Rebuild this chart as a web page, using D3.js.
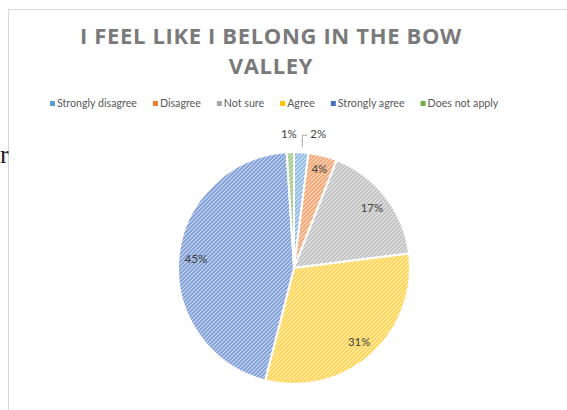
<!DOCTYPE html>
<html><head><meta charset="utf-8">
<script src="https://cdn.jsdelivr.net/npm/d3@7"></script>
<style>html,body{margin:0;padding:0;background:#fff;overflow:hidden}</style>
</head><body>
<svg id="c" width="567" height="410"></svg>
<script>
const categories = ["Strongly disagree","Disagree","Not sure","Agree","Strongly agree","Does not apply"];
const values = [2,4,17,31,45,1];
const labels = ["2%","4%","17%","31%","45%","1%"];
const colors = ["#5B9BD5","#ED7D31","#A5A5A5","#FFC000","#4472C4","#70AD47"];
const titleLines = ["I FEEL LIKE I BELONG IN THE BOW","VALLEY"];

const svg = d3.select("#c");

// chart border (continues off the page)
svg.append("rect").attr("x",8.5).attr("y",9.5).attr("width",700).attr("height",600)
  .attr("fill","#fff").attr("stroke","#d9d9d9").attr("stroke-width",1);

// stray serif letter at the left
svg.append("text").attr("x",0).attr("y",163).attr("text-anchor","start")
  .attr("font-family","'Liberation Serif', 'Times New Roman', serif").attr("font-size",26)
  .attr("fill","#222").text("r");

// patterns
const defs = svg.append("defs");
colors.forEach((c,i)=>{
  const light = d3.interpolateRgb(c,"#fff")(0.68);
  const dark = d3.interpolateRgb(c,"#fff")(0.28);
  const p = defs.append("pattern").attr("id","pat"+i).attr("patternUnits","userSpaceOnUse")
    .attr("width",4).attr("height",4);
  p.append("rect").attr("width",4).attr("height",4).attr("fill",light);
  p.append("path").attr("d","M-1,1 L1,-1 M0,4 L4,0 M3,5 L5,3").attr("stroke",dark).attr("stroke-width",1.5);
});

// title
const title = svg.append("g");
[[titleLines[0],44],[titleLines[1],74]].forEach(([t,y])=>{
  title.append("text").attr("x",271).attr("y",y).attr("text-anchor","middle")
    .attr("font-family","'Open Sans', sans-serif").attr("font-weight","bold").attr("font-size",22)
    .attr("fill","#7a7a7a").attr("letter-spacing","2.2px").text(t);
});
(function(){
  const el = title.select("text").node();
  const w = el.getComputedTextLength();
  const n = titleLines[0].length;
  const ls = 2.2 + (382 - w)/n;
  title.selectAll("text").attr("letter-spacing", ls+"px");
})();

// legend
const legend = svg.append("g");
const items = legend.selectAll("g").data(categories).join("g");
items.append("rect").attr("width",5).attr("height",5).attr("y",-3).attr("fill",(d,i)=>colors[i]);
const texts = items.append("text").attr("x",7).attr("y",0).attr("dy","0.32em")
  .attr("font-family","Lato, 'Open Sans', sans-serif")
  .attr("font-size",12).attr("fill","#595959").text(d=>d);
function widthsNow(){ const w=[]; texts.each(function(){ w.push(this.getComputedTextLength()+7); }); return w; }
const gap = 16;
let widths = widthsNow();
const fs = 12 * (449 - gap*5 - 42) / (d3.sum(widths) - 42);
texts.attr("font-size", fs);
widths = widthsNow();
let lx = 50;
items.each(function(d,i){
  d3.select(this).attr("transform",`translate(${lx},${104})`);
  lx += widths[i] + gap;
});

// pie
const cx = 294, cy = 268, r = 116;
const pie = d3.pie().sort(null).value(d=>d)(values);
const arc = d3.arc().innerRadius(0).outerRadius(r);
const g = svg.append("g").attr("transform",`translate(${cx},${cy})`);
g.selectAll("path").data(pie).join("path").attr("d",arc)
  .attr("fill",(d,i)=>`url(#pat${i})`).attr("stroke","#fff").attr("stroke-width",2);

const labelArc = d3.arc().innerRadius(r*0.85).outerRadius(r*0.85);
g.selectAll("text.lab").data(pie).join("text").attr("class","lab")
  .attr("font-family","Lato, 'Open Sans', sans-serif").attr("font-size",11.5).attr("fill","#404040")
  .attr("text-anchor","middle").attr("dy","0.35em")
  .each(function(d,i){
    const el = d3.select(this);
    const mid = (d.startAngle+d.endAngle)/2;
    let x, y;
    if (values[i] < 3) {
      const rr = r + 16;
      x = Math.sin(mid)*rr; y = -Math.cos(mid)*rr;
      if (i === 0) {
        x += 16; y -= 2;
        g.append("path").attr("fill","none").attr("stroke","#a6a6a6").attr("stroke-width",1)
          .attr("d",`M${x-11},${y+1} L${x-16},${y+1} L${x-16},${y+13}`);
      } else { x -= 1; y -= 2; }
    } else {
      [x,y] = labelArc.centroid(d);
      if (i===1) { x = Math.sin(mid)*r*0.88; y = -Math.cos(mid)*r*0.88; }
    }
    el.attr("x",x).attr("y",y).text(labels[i]);
  });
</script>
</body></html>
